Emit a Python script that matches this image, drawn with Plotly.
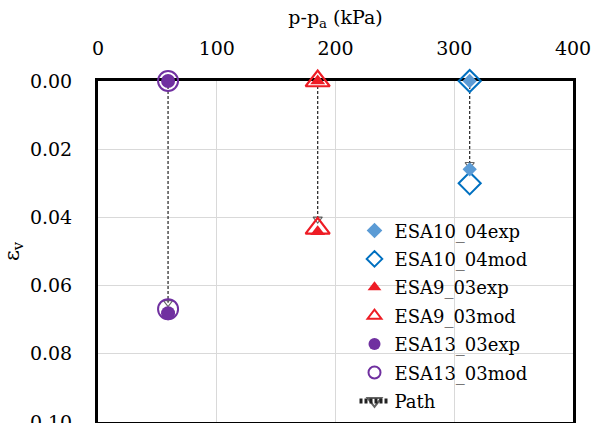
import plotly.graph_objects as go

# ---- data ----
esa10_exp_x = [313, 313]
esa10_exp_y = [0.0, 0.0259]
esa10_mod_x = [313, 313]
esa10_mod_y = [0.0, 0.0300]
esa9_exp_x = [185, 185]
esa9_exp_y = [0.0, 0.0442]
esa9_mod_x = [185, 185]
esa9_mod_y = [0.0, 0.0432]
esa13_exp_x = [59, 59]
esa13_exp_y = [0.0, 0.0681]
esa13_mod_x = [59, 59]
esa13_mod_y = [0.0, 0.0669]
path_x = [59, 59, None, 185, 185, None, 313, 313]
path_y = [0.0, 0.0650, None, 0.0, 0.0405, None, 0.0, 0.0245]

x_ticks = [0, 100, 200, 300, 400]
y_ticks = [0.00, 0.02, 0.04, 0.06, 0.08, 0.10]

FONT = "DejaVu Serif"
BLUE = "#5B9BD5"
BLUE_D = "#0070C0"
RED = "#EE1C25"
PURPLE = "#7030A0"

fig = go.Figure()

# path (drawn first, under markers)
fig.add_trace(go.Scatter(
    x=path_x, y=path_y, mode="lines+markers", name="Path",
    line=dict(color="#222222", width=1.2, dash="3px,2px"),
    marker=dict(symbol="triangle-down-open", color="#222222",
                size=[0, 8, 0, 0, 8, 0, 0, 8], line=dict(width=1.1)),
    legendrank=7, legendgroup="g7", cliponaxis=False))

# mod (open) markers
fig.add_trace(go.Scatter(x=esa10_mod_x, y=esa10_mod_y, mode="markers", name="ESA10_04mod",
    marker=dict(symbol="diamond-open", size=17, color=BLUE_D, line=dict(width=2)),
    legendrank=2, legendgroup="g2", cliponaxis=False))
fig.add_trace(go.Scatter(x=esa9_mod_x, y=esa9_mod_y, mode="markers", name="ESA9_03mod",
    marker=dict(symbol="triangle-up-open", size=21, color=RED, line=dict(width=2.2)),
    legendrank=4, legendgroup="g4", cliponaxis=False))
fig.add_trace(go.Scatter(x=esa13_mod_x, y=esa13_mod_y, mode="markers", name="ESA13_03mod",
    marker=dict(symbol="circle-open", size=20, color=PURPLE, line=dict(width=2)),
    legendrank=6, legendgroup="g6", cliponaxis=False))

# exp (filled) markers
fig.add_trace(go.Scatter(x=esa10_exp_x, y=esa10_exp_y, mode="markers", name="ESA10_04exp",
    marker=dict(symbol="diamond", size=11, color=BLUE, line=dict(width=0)),
    legendrank=1, legendgroup="g1", cliponaxis=False))
fig.add_trace(go.Scatter(x=esa9_exp_x, y=esa9_exp_y, mode="markers", name="ESA9_03exp",
    marker=dict(symbol="triangle-up", size=13, color=RED, line=dict(width=0)),
    legendrank=3, legendgroup="g3", cliponaxis=False))
fig.add_trace(go.Scatter(x=esa13_exp_x, y=esa13_exp_y, mode="markers", name="ESA13_03exp",
    marker=dict(symbol="circle", size=14, color=PURPLE, line=dict(width=0)),
    legendrank=5, legendgroup="g5", cliponaxis=False))

fig.update_layout(
    width=602, height=423,
    margin=dict(l=98, r=29, t=81, b=1, autoexpand=False),
    paper_bgcolor="white", plot_bgcolor="white",
    font=dict(family=FONT, size=18, color="black"),
    showlegend=True,
    legend=dict(x=0.54, y=0.615, xanchor="left", yanchor="top",
                bgcolor="rgba(0,0,0,0)", font=dict(size=18, family=FONT),
                traceorder="grouped", tracegroupgap=2,
                itemwidth=30, itemsizing="constant"),
    xaxis=dict(side="top", range=[0, 400], tickvals=x_ticks,
               ticktext=[str(v) for v in x_ticks], automargin=False,
               showgrid=True, gridcolor="#D9D9D9", gridwidth=1,
               showline=True, linecolor="black", linewidth=3, mirror=True,
               ticks="", ticklabelstandoff=15, zeroline=False,
               ticklabeloverflow="allow",
               tickfont=dict(size=19, family=FONT),
               title=dict(text="p-p<sub>a</sub> (kPa)", font=dict(size=19, family=FONT), standoff=8),
               layer="below traces"),
    yaxis=dict(range=[0.10, 0.0], tickvals=y_ticks,
               ticktext=[f"{v:.2f}" for v in y_ticks], automargin=False,
               showgrid=True, gridcolor="#D9D9D9", gridwidth=1,
               showline=True, linecolor="black", linewidth=3, mirror=True,
               ticks="", ticklabelstandoff=19, zeroline=False,
               ticklabeloverflow="allow",
               tickfont=dict(size=19, family=FONT),
               title=dict(text="ε<sub>v</sub>", font=dict(size=21, family=FONT), standoff=16),
               layer="below traces"),
)

fig.write_html("out.html")
